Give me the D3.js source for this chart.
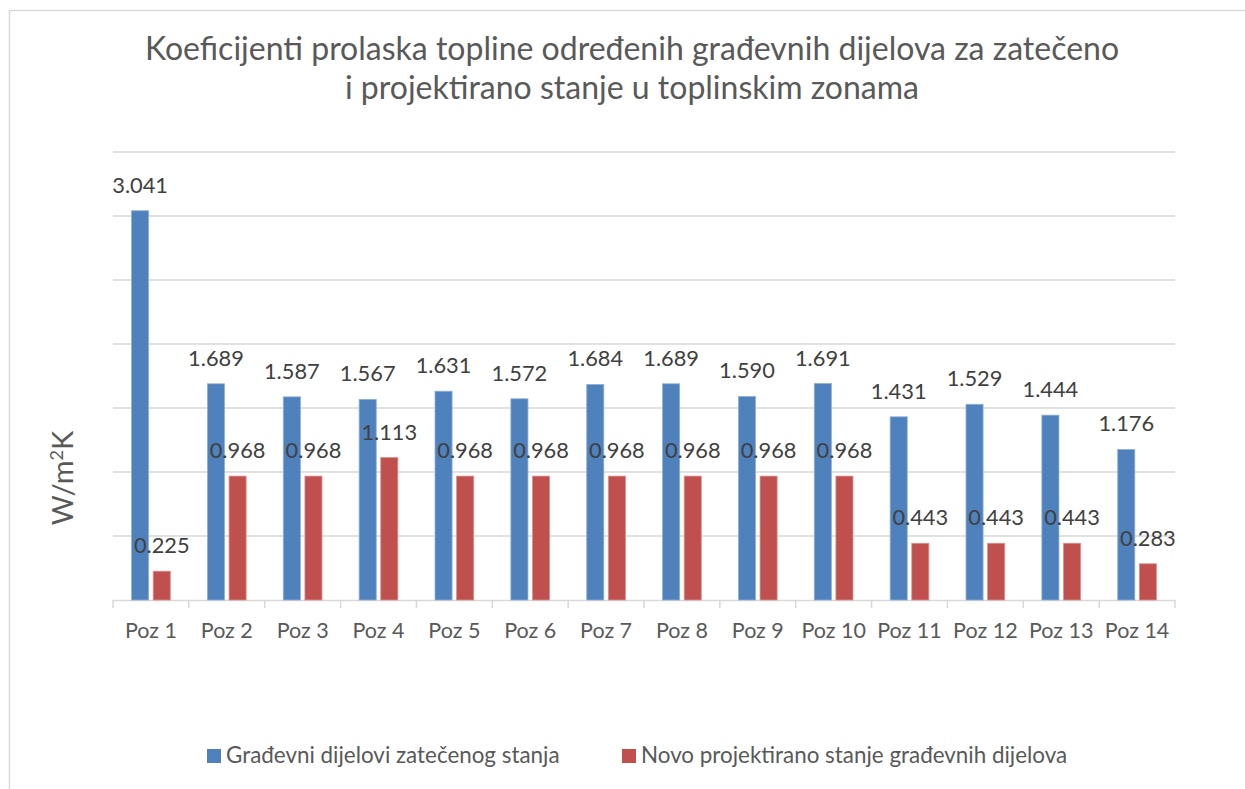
<!DOCTYPE html>
<html>
<head>
<meta charset="utf-8">
<script src="https://cdn.jsdelivr.net/npm/d3@7"></script>
<style>
  body { margin: 0; background: #fff; }
  svg text { font-family: Lato, "Open Sans", sans-serif; }
</style>
</head>
<body>
<div id="chart"></div>
<script>
const categories = ["Poz 1","Poz 2","Poz 3","Poz 4","Poz 5","Poz 6","Poz 7","Poz 8","Poz 9","Poz 10","Poz 11","Poz 12","Poz 13","Poz 14"];
const existing = [3.041, 1.689, 1.587, 1.567, 1.631, 1.572, 1.684, 1.689, 1.590, 1.691, 1.431, 1.529, 1.444, 1.176];
const designed = [0.225, 0.968, 0.968, 1.113, 0.968, 0.968, 0.968, 0.968, 0.968, 0.968, 0.443, 0.443, 0.443, 0.283];
const seriesNames = ["Građevni dijelovi zatečenog stanja", "Novo projektirano stanje građevnih dijelova"];
const yTicks = [0, 0.5, 1, 1.5, 2, 2.5, 3, 3.5];

const W = 1245, H = 789;
const colors = ["#4f81bd", "#c0504d"];

const svg = d3.select("#chart").append("svg")
  .attr("width", W)
  .attr("height", H);

svg.append("rect")
  .attr("x", 9.5).attr("y", 10.5)
  .attr("width", W + 10).attr("height", H + 10)
  .attr("fill", "#fff")
  .attr("stroke", "#d9d9d9")
  .attr("stroke-width", 1.5);

// title, two lines
const title = svg.append("text")
  .attr("text-anchor", "middle")
  .attr("fill", "#595959")
  .style("font-size", "32px");
title.append("tspan").attr("x", 632).attr("y", 60)
  .text("Koeficijenti prolaska topline određenih građevnih dijelova za zatečeno");
title.append("tspan").attr("x", 632).attr("y", 99)
  .text("i projektirano stanje u toplinskim zonama");

const plotLeft = 113, plotRight = 1175, plotTop = 152, plotBottom = 600;

let x = d3.scaleBand()
  .domain(categories)
  .range([plotLeft, plotRight]);

let x1 = d3.scaleBand()
  .domain([0, 1])
  .range([0, x.bandwidth()])
  .paddingInner(0.21)
  .paddingOuter(0.86);

let y = d3.scaleLinear()
  .domain([0, 3.5])
  .range([plotBottom, plotTop]);

// gridlines
svg.append("g")
  .selectAll("line")
  .data(yTicks.slice(1))
  .enter().append("line")
  .attr("x1", plotLeft).attr("x2", plotRight)
  .attr("y1", d => y(d)).attr("y2", d => y(d))
  .attr("stroke", "#d9d9d9")
  .attr("stroke-width", 1.5);

// x axis
let xAxis = d3.axisBottom(x).tickSize(0).tickPadding(0);
const gx = svg.append("g")
  .attr("transform", `translate(0,${plotBottom})`)
  .call(xAxis);
gx.select(".domain").attr("stroke", "#d9d9d9").attr("stroke-width", 1.5);
gx.selectAll(".tick text")
  .attr("y", 38)
  .attr("dy", 0)
  .attr("fill", "#595959")
  .style("font-size", "21.5px");
// category boundary ticks
gx.append("g").selectAll("line")
  .data(categories.map(c => x(c)).concat([plotRight]))
  .enter().append("line")
  .attr("x1", d => d).attr("x2", d => d)
  .attr("y1", 0).attr("y2", 8)
  .attr("stroke", "#d9d9d9")
  .attr("stroke-width", 1.5);

// bars
const rows = categories.map((c, i) => ({ cat: c, vals: [existing[i], designed[i]] }));
const groups = svg.selectAll(".grp")
  .data(rows)
  .enter().append("g")
  .attr("class", "grp")
  .attr("transform", d => `translate(${x(d.cat)},0)`);

groups.selectAll("rect")
  .data(d => d.vals.map((v, k) => ({ k, v })))
  .enter().append("rect")
  .attr("x", d => x1(d.k))
  .attr("width", x1.bandwidth())
  .attr("y", d => y(d.v))
  .attr("height", d => plotBottom - y(d.v))
  .attr("fill", d => colors[d.k])
  .attr("stroke", d => d.k === 0 ? "#8eaedb" : "#dc8f8d")
  .attr("stroke-width", 0.8);

groups.selectAll("text")
  .data(d => d.vals.map((v, k) => ({ k, v })))
  .enter().append("text")
  .attr("x", d => x1(d.k) + x1.bandwidth() / 2)
  .attr("y", d => y(d.v) - 18)
  .attr("text-anchor", "middle")
  .attr("fill", "#404040")
  .style("font-size", "21.8px")
  .text(d => d.v.toFixed(3));

// y axis title
svg.append("text")
  .attr("transform", "translate(73,478) rotate(-90)")
  .attr("text-anchor", "middle")
  .attr("fill", "#595959")
  .style("font-size", "29px")
  .html('W/m<tspan dy="-10" style="font-size:18px">2</tspan><tspan dy="10">K</tspan>');

// legend
const legendX = [207, 622];
const legend = svg.selectAll(".key")
  .data(seriesNames)
  .enter().append("g")
  .attr("class", "key")
  .attr("transform", (d, i) => `translate(${legendX[i]},749)`);
legend.append("rect")
  .attr("width", 14).attr("height", 14)
  .attr("fill", (d, i) => colors[i]);
legend.append("text")
  .attr("x", 19).attr("y", 14)
  .attr("fill", "#595959")
  .style("font-size", "22.4px")
  .text(d => d);
</script>
</body>
</html>
